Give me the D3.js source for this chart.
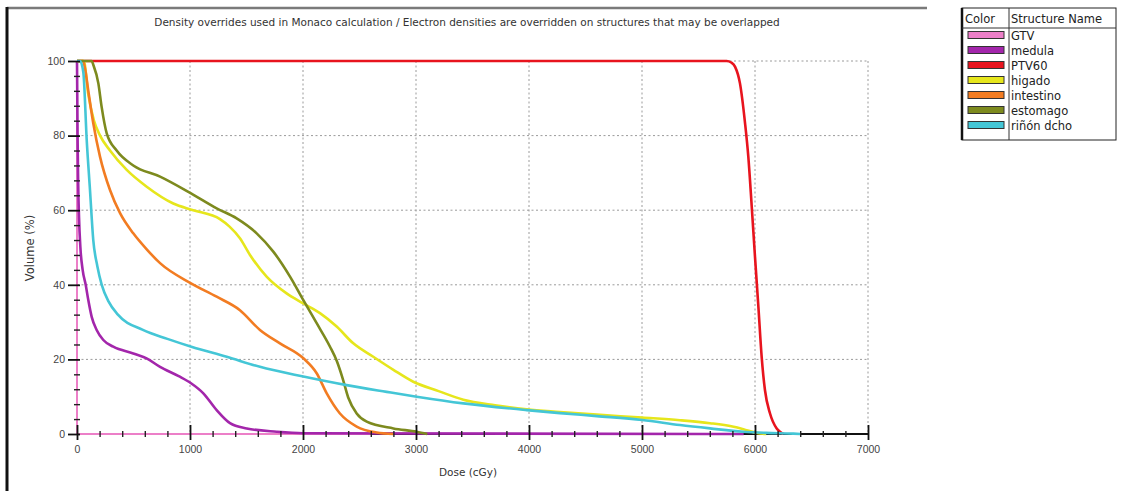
<!DOCTYPE html>
<html><head><meta charset="utf-8">
<script src="https://cdn.jsdelivr.net/npm/d3@7"></script>
<style>
html,body{margin:0;padding:0;background:#fff;}
svg{display:block;font-family:"Liberation Sans",Arial,sans-serif;}
</style></head>
<body>
<svg id="chart" width="1123" height="491"></svg>
<script>
// ---------- data ----------
const titleText = "Density overrides used in Monaco calculation / Electron densities are overridden on structures that may be overlapped";
const xLabel = "Dose (cGy)";
const yLabel = "Volume (%)";
const doseTicks = [0,1000,2000,3000,4000,5000,6000,7000];
const volTicks = [0,20,40,60,80,100];

const seriesNames = ["GTV","medula","PTV60","higado","intestino","estomago","riñón dcho"];
const seriesColors = ["#ec7fc8","#a326ab","#e8141e","#e6e61c","#f27c22","#7d8a1e","#44c6d6"];

const gtvDose = [0, 0, 2600];
const gtvVol  = [100, 0, 0];

const medulaDose = [0,5,10,18,30,50,77,100,130,174,233,321,498,620,735,900,1009,1118,1236,1354,1502,1767,2000,5900];
const medulaVol  = [100,80,68,58,50,44,40,35.9,31.4,27.9,25.2,23.4,21.6,20.2,18,15.5,13.6,10.9,6.4,2.9,1.5,0.6,0.2,0];

const ptvDose = [0,5700,5749,5790,5823,5867,5912,5941,5971,6000,6030,6059,6088,6133,6192,6221,6250];
const ptvVol  = [100,100,100,99.6,98.5,94,83.3,74.3,61,47.5,34.1,20.7,11.8,5.5,1.5,0.6,0];

const higadoDose = [0,60,100,150,204,292,440,617,852,1029,1265,1350,1442,1531,1678,1855,2003,2150,2298,2445,2622,2800,2976,3200,3419,3700,3980,4274,4600,5003,5336,5602,5800,5897,6015,6100];
const higadoVol  = [100,100,91,84,80,76,70.8,66.3,61.8,60,57.6,55.6,52.5,48,42.2,37.7,35,32.4,28.8,24.3,20.7,17.2,14,11.5,9.2,7.7,6.6,5.9,5.2,4.4,3.7,2.9,2,1.3,0.3,0];

const intestinoDose = [0,53,71,100,144,204,292,381,498,617,735,1009,1236,1442,1619,1796,2003,2121,2210,2327,2475,2652,2800];
const intestinoVol  = [100,100,98,92,83.3,74.3,65.4,59.2,53.8,49.5,45.8,40.4,36.8,33.2,27.9,24.3,20.3,16.3,10.9,5.5,2,0.4,0];

const estomagoDose = [0,130,144,189,218,263,351,498,735,1009,1236,1413,1590,1737,1885,2003,2121,2239,2300,2350,2400,2475,2564,2800,3006,3100];
const estomagoVol  = [100,100,99,94,87.7,80.6,76,72,69,64.5,60.5,57.8,53.8,48.9,42.2,35.9,29.7,23.4,19.5,15,9.8,5.5,3.3,1.5,0.6,0];

const rinonDose = [0,27,56,86,115,144,180,219,280,362,583,800,1012,1325,1619,2003,2386,2740,3006,3419,3980,4274,4600,5003,5336,5602,5897,6100,6340,6400];
const rinonVol  = [100,100,97,78.8,65.4,52,45,40,35.5,32,27.9,25.5,23.4,20.7,18,15.4,13.1,11.3,10,8.2,6.4,5.6,4.8,3.75,2.4,1.5,0.6,0.3,0.1,0];

const seriesDose = [gtvDose, medulaDose, ptvDose, higadoDose, intestinoDose, estomagoDose, rinonDose];
const seriesVol  = [gtvVol, medulaVol, ptvVol, higadoVol, intestinoVol, estomagoVol, rinonVol];

// ---------- drawing ----------
const svg = d3.select("#chart");
const W = 1123, H = 491;
const wideFont = "DejaVu Sans, Verdana, sans-serif";
const x = d3.scaleLinear().domain([0,7000]).range([77,868]);
const y = d3.scaleLinear().domain([0,100]).range([434,61]);

// frame
svg.append("line").attr("x1",7).attr("x2",927).attr("y1",8).attr("y2",8)
  .attr("stroke","#7a7a7a").attr("stroke-width",2.5);
svg.append("line").attr("x1",7).attr("x2",7).attr("y1",7).attr("y2",H)
  .attr("stroke","#111").attr("stroke-width",3);

// title
svg.append("text").attr("x",467).attr("y",26).attr("text-anchor","middle")
  .attr("font-family",wideFont).attr("font-size",10.5).attr("fill","#333").text(titleText);

// grid
const grid = svg.append("g").attr("stroke","#9a9a9a").attr("stroke-width",1).attr("stroke-dasharray","2,2.5");
grid.selectAll(".vg").data(doseTicks.filter(d=>d>0)).join("line")
  .attr("x1",d=>x(d)).attr("x2",d=>x(d)).attr("y1",y(100)).attr("y2",y(0));
grid.selectAll(".hg").data(volTicks.filter(d=>d>0)).join("line")
  .attr("x1",x(0)).attr("x2",x(7000)).attr("y1",d=>y(d)).attr("y2",d=>y(d));

// axis base lines
svg.append("line").attr("x1",x(0)).attr("x2",x(7000)).attr("y1",y(0)).attr("y2",y(0))
  .attr("stroke","#111").attr("stroke-width",2);
svg.append("line").attr("x1",x(0)).attr("x2",x(0)).attr("y1",y(0)).attr("y2",y(100))
  .attr("stroke","#111").attr("stroke-width",1.5);

// curves
const curves = svg.append("g").attr("fill","none").attr("stroke-linejoin","round");
seriesNames.forEach((name,i)=>{
  const pts = seriesDose[i].map((d,j)=>[d, seriesVol[i][j]]);
  const line = d3.line().x(p=>x(p[0])).y(p=>y(p[1]))
    .curve(i===0 ? d3.curveLinear : d3.curveMonotoneX);
  curves.append("path").attr("d", line(pts)).attr("stroke", seriesColors[i])
    .attr("stroke-width", i===0 ? 2 : 2.6);
});

// axes ticks
const minorDose = d3.range(0,7001,200).filter(d=>d%1000!==0);
const minorVol = d3.range(0,101,4).filter(d=>d%20!==0);

const xAxis = svg.append("g").attr("transform",`translate(0,${y(0)})`)
  .call(d3.axisBottom(x).tickValues(doseTicks).tickSize(6).tickPadding(6).tickFormat(d3.format("d")));
xAxis.select(".domain").remove();
xAxis.selectAll(".tick line").attr("y1",-9).attr("stroke","#111").attr("stroke-width",1.8);
xAxis.selectAll(".tick text").attr("font-size",10.5).attr("fill","#444").attr("font-family","Liberation Sans, Arial, sans-serif");

const xMinor = svg.append("g").attr("transform",`translate(0,${y(0)})`)
  .call(d3.axisBottom(x).tickValues(minorDose).tickSize(3).tickFormat(""));
xMinor.select(".domain").remove();
xMinor.selectAll(".tick line").attr("y1",-3).attr("stroke","#222").attr("stroke-width",1.4);

const yAxis = svg.append("g").attr("transform",`translate(${x(0)},0)`)
  .call(d3.axisLeft(y).tickValues(volTicks).tickSize(9).tickPadding(3).tickFormat(d3.format("d")));
yAxis.select(".domain").remove();
yAxis.selectAll(".tick line").attr("x1",3).attr("stroke","#111").attr("stroke-width",1.8);
yAxis.selectAll(".tick text").attr("font-size",10.5).attr("fill","#444").attr("font-family","Liberation Sans, Arial, sans-serif");

const yMinor = svg.append("g").attr("transform",`translate(${x(0)},0)`)
  .call(d3.axisLeft(y).tickValues(minorVol).tickSize(3).tickFormat(""));
yMinor.select(".domain").remove();
yMinor.selectAll(".tick line").attr("x1",3).attr("stroke","#222").attr("stroke-width",1.4);

// axis labels
svg.append("text").attr("x",468).attr("y",476).attr("text-anchor","middle")
  .attr("font-family",wideFont).attr("font-size",10.5).attr("fill","#333").text(xLabel);
svg.append("text").attr("transform","translate(34,248) rotate(-90)").attr("text-anchor","middle")
  .attr("font-family",wideFont).attr("font-size",11.5).attr("fill","#333").text(yLabel);

// legend table
const lg = svg.append("g").attr("font-family",wideFont);
const lx0 = 962, lx1 = 1116, ly0 = 8, ly1 = 140, lcol = 1009, lhead = 28;
lg.append("rect").attr("x",lx0).attr("y",ly0).attr("width",lx1-lx0).attr("height",ly1-ly0)
  .attr("fill","#fff").attr("stroke","#222").attr("stroke-width",1);
lg.append("line").attr("x1",lx0).attr("x2",lx0).attr("y1",ly0).attr("y2",ly1).attr("stroke","#111").attr("stroke-width",2.5);
lg.append("line").attr("x1",lcol).attr("x2",lcol).attr("y1",ly0).attr("y2",ly1).attr("stroke","#333").attr("stroke-width",1);
lg.append("line").attr("x1",lx0).attr("x2",lx1).attr("y1",lhead).attr("y2",lhead).attr("stroke","#333").attr("stroke-width",1);
lg.append("text").attr("x",965).attr("y",23).attr("font-size",11.5).attr("fill","#222").text("Color");
lg.append("text").attr("x",1011).attr("y",23).attr("font-size",11.5).attr("fill","#222").text("Structure Name");
seriesNames.forEach((name,i)=>{
  const cy = 35 + 15*i;
  lg.append("rect").attr("x",968).attr("y",cy-3.5).attr("width",36).attr("height",7)
    .attr("fill",seriesColors[i]).attr("stroke","#333").attr("stroke-width",1);
  lg.append("text").attr("x",1011).attr("y",cy+5).attr("font-size",11.5).attr("fill","#222").text(name);
});
</script>
</body></html>
